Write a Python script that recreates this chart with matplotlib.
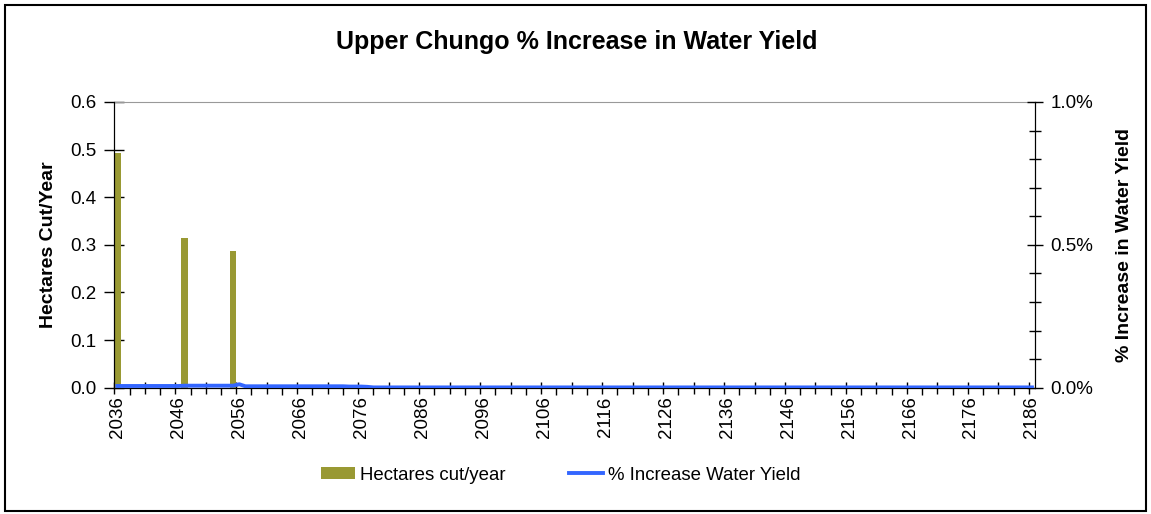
import numpy as np
import matplotlib
matplotlib.use("Agg")
import matplotlib.pyplot as plt
from matplotlib.ticker import FixedLocator, PercentFormatter
from matplotlib.patches import Rectangle

plt.rcParams['font.family'] = ['Liberation Sans', 'DejaVu Sans']

years = list(range(2036, 2187))
# hectares cut per year (only three harvest years)
cut_years = [2036, 2047, 2055]
cut_ha = [0.493, 0.315, 0.288]
# % increase in water yield, one value per year 2036..2186
water_yield = (
    [0.006, 0.006, 0.006, 0.006, 0.006, 0.006, 0.006, 0.006, 0.006, 0.006,   # 2036-2045
     0.006, 0.007, 0.007, 0.007, 0.007, 0.007, 0.007, 0.007, 0.007, 0.007,   # 2046-2055
     0.012, 0.005, 0.005, 0.005, 0.005, 0.005, 0.005, 0.005, 0.005, 0.005,   # 2056-2065
     0.005, 0.005, 0.005, 0.005, 0.005, 0.005, 0.005, 0.005, 0.004, 0.004,   # 2066-2075
     0.004, 0.003, 0.001, 0.001, 0.001, 0.001, 0.001, 0.001, 0.001, 0.001]   # 2076-2085
    + [0.001] * 101                                                          # 2086-2186
)

hectares = [0.0] * len(years)
for y, v in zip(cut_years, cut_ha):
    hectares[years.index(y)] = v

W, H = 1151, 514
fig = plt.figure(figsize=(W / 100, H / 100), dpi=100)
fig.patches.append(Rectangle((5 / W, 3 / H), 1141 / W, 506 / H, transform=fig.transFigure,
                             fill=False, edgecolor="black", lw=1.5))

x = np.arange(len(years))
ax = fig.add_axes([114.3 / W, 1 - 387.7 / H, (1035 - 114.3) / W, (387.7 - 102) / H])
ax.bar(x, hectares, width=1.05, color="#999933", label="Hectares cut/year", zorder=2)
ax.set_xlim(-0.5, len(years) - 0.5)
ax.set_ylim(0, 0.6)
ax.set_yticks(np.arange(0, 0.61, 0.1))
ax.set_yticklabels(["%.1f" % v for v in np.arange(0, 0.61, 0.1)], fontsize=13.5)
ax.tick_params(axis="y", direction="inout", length=14, width=1, pad=6)

# x axis: labels every 10 years, ticks at category boundaries
lab_pos = x[::10]
ax.xaxis.set_major_locator(FixedLocator(np.arange(-0.5, len(years), 5)))
ax.xaxis.set_minor_locator(FixedLocator(np.arange(2.0, len(years), 5)))
ax.set_xticklabels([])
ax.tick_params(axis="x", which="major", direction="inout", length=9, width=1)
ax.tick_params(axis="x", which="minor", direction="out", length=5, width=1)
for p in lab_pos:
    ax.text(p, -0.03, str(years[p]), rotation=90, ha="center", va="top",
            fontsize=13.5, transform=ax.get_xaxis_transform())

ax.spines["top"].set_color("#999999")
ax.spines["left"].set_color("black")
ax.spines["bottom"].set_color("black")
ax.set_ylabel("Hectares Cut/Year", fontsize=14, fontweight="bold")
ax.yaxis.set_label_coords(-0.062, 0.5)

ax2 = ax.twinx()
ax2.plot(x, water_yield, color="#3366FF", lw=2.8, label="% Increase Water Yield", zorder=3)
ax2.set_ylim(0, 1.0)
ax2.yaxis.set_major_locator(FixedLocator([0, 0.5, 1.0]))
ax2.yaxis.set_minor_locator(FixedLocator(np.arange(0.1, 1.0, 0.1)))
ax2.yaxis.set_major_formatter(PercentFormatter(decimals=1))
ax2.tick_params(axis="y", which="major", direction="inout", length=12, width=1, labelsize=13.5, pad=5)
ax2.tick_params(axis="y", which="minor", direction="inout", length=9, width=1)
ax2.spines["right"].set_color("black")
ax2.spines["top"].set_visible(False)
ax2.set_ylabel("% Increase in Water Yield", fontsize=14, fontweight="bold")
ax2.yaxis.set_label_coords(1.088, 0.5)

fig.text(577 / W, 1 - 42 / H, "Upper Chungo % Increase in Water Yield",
         ha="center", va="center", fontsize=18, fontweight="bold")

h1, l1 = ax.get_legend_handles_labels()
h2, l2 = ax2.get_legend_handles_labels()
fig.legend(h1 + h2, l1 + l2, loc="center", bbox_to_anchor=(561 / W, 1 - 475 / H), ncol=2,
           frameon=False, fontsize=13.4, handlelength=1.8, handleheight=0.65,
           columnspacing=3.4, handletextpad=0.3)

fig.savefig("out.png", dpi=100)
